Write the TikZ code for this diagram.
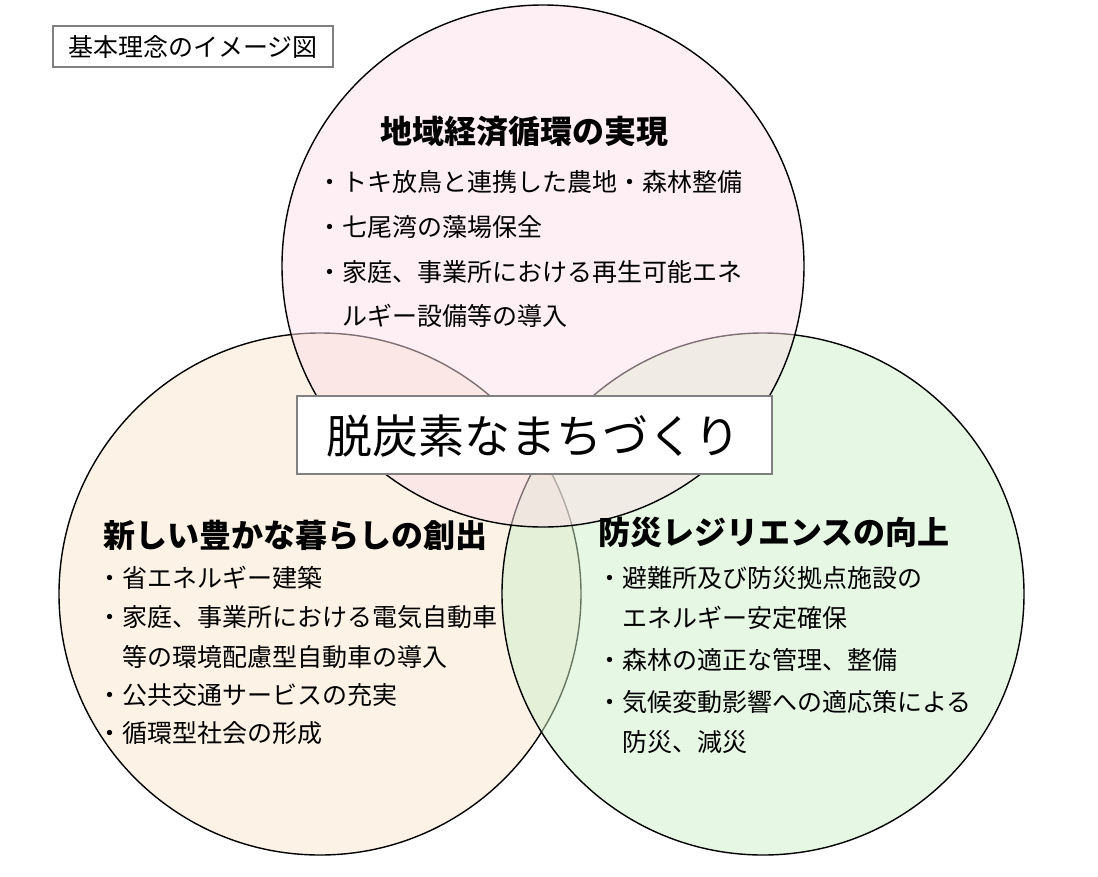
\documentclass[tikz,border=0pt]{standalone}
\usepackage{fontspec}
\setmainfont{Noto Sans CJK JP}
\definecolor{pinkc}{RGB}{251,223,231}
\definecolor{orangec}{RGB}{253,242,230}
\definecolor{greenc}{RGB}{205,239,201}
\definecolor{boxgray}{RGB}{128,128,128}
\tikzset{
  venn/.style={draw=black, line width=1.4pt},
  title/.style={font=\fontsize{32}{32}\selectfont\bfseries, anchor=base, inner sep=0pt},
  item/.style={font=\fontsize{25}{25}\selectfont, anchor=base west, inner sep=0pt},
  framebox/.style={draw=boxgray, fill=white, line width=1.8pt}
}
\begin{document}
\begin{tikzpicture}[x=1pt,y=-1pt]
\useasboundingbox (0,0) rectangle (1098,876);
% circles
\fill[orangec] (320,594) circle[radius=261];
\draw[venn] (320,594) circle[radius=261];
\fill[greenc, fill opacity=0.5] (763,594) circle[radius=261];
\draw[venn] (763,594) circle[radius=261];
\fill[pinkc, fill opacity=0.5] (543,266) circle[radius=261];
\draw[venn] (543,266) circle[radius=261];
% label box
\node[framebox, line width=1.4pt, minimum width=280, minimum height=41, inner sep=0pt] (label) at (193,46.5) {};
\node[font=\fontsize{25}{25}\selectfont, inner sep=0pt] (labeltext) at (193,47) {基本理念のイメージ図};
% central box
\node[framebox, minimum width=475, minimum height=78, inner sep=0pt] (center) at (534.5,435) {};
\node[font=\fontsize{46}{46}\selectfont, inner sep=0pt] (centertext) at (533,436) {脱炭素なまちづくり};
% top circle texts
\node[title] (ttitle) at (524,143) {地域経済循環の実現};
\node[item] (t1) at (317.5,191.5) {・トキ放鳥と連携した農地・森林整備};
\node[item] (t2) at (317.5,236) {・七尾湾の藻場保全};
\node[item] (t3) at (317.5,281.5) {・家庭、事業所における再生可能エネ};
\node[item] (t4) at (342.5,325.5) {ルギー設備等の導入};
% left circle texts
\node[title] (ltitle) at (295,547) {新しい豊かな暮らしの創出};
\node[item] (l1) at (97.5,587.5) {・省エネルギー建築};
\node[item] (l2) at (97.5,626.5) {・家庭、事業所における電気自動車};
\node[item] (l3) at (122.5,666.5) {等の環境配慮型自動車の導入};
\node[item] (l4) at (97.5,704.5) {・公共交通サービスの充実};
\node[item] (l5) at (97.5,742.5) {・循環型社会の形成};
% right circle texts
\node[title] (rtitle) at (774,544) {防災レジリエンスの向上};
\node[item] (r1) at (597.5,587.5) {・避難所及び防災拠点施設の};
\node[item] (r2) at (622.5,627.5) {エネルギー安定確保};
\node[item] (r3) at (597.5,669.5) {・森林の適正な管理、整備};
\node[item] (r4) at (597.5,711.5) {・気候変動影響への適応策による};
\node[item] (r5) at (622.5,751.5) {防災、減災};
\end{tikzpicture}
\end{document}
